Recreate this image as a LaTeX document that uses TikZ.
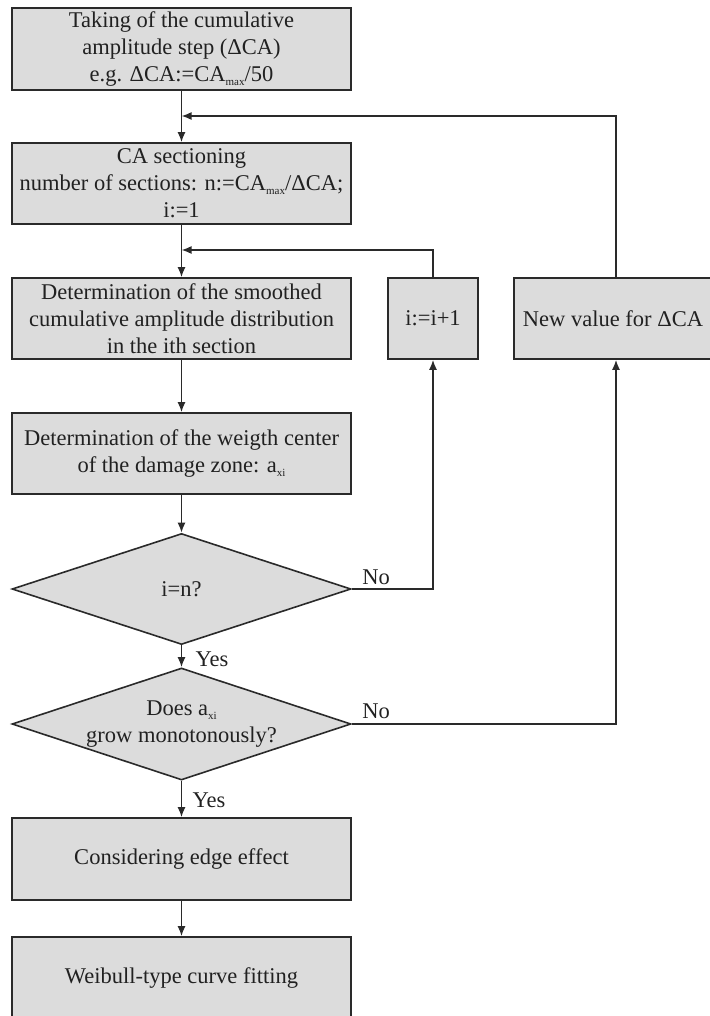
\documentclass[tikz,border=0pt]{standalone}
\usepackage{fontspec}
\setmainfont{Liberation Serif}
\usetikzlibrary{shapes.geometric,arrows.meta}
\definecolor{boxfill}{HTML}{DCDCDC}
\definecolor{linecol}{HTML}{2A2A2A}
\newcommand\smallsub[1]{\raisebox{-0.35ex}{\fontsize{11}{11}\selectfont #1}}
\begin{document}
\begin{tikzpicture}[x=1pt,y=-1pt,
  every node/.style={font=\fontsize{22.5}{27}\selectfont, text=black!87},
  procbox/.style={draw=linecol, fill=boxfill, line width=1.6pt, inner sep=0pt, align=center, minimum width=339pt, minimum height=81pt},
  decide/.style={diamond, draw=linecol, fill=boxfill, line width=1.6pt, inner sep=0pt, minimum width=339pt, minimum height=111pt},
  conn/.style={draw=linecol, line width=1.6pt},
  arr/.style={conn, -{Latex[length=10pt,width=8pt]}},
  lbl/.style={inner sep=0pt, align=center}]
\useasboundingbox (0,0) rectangle (709,1016);
\node[procbox, minimum height=82pt] (b1) at (181.5,49) {Taking of the cumulative\\amplitude step (ΔCA)\\e.g. ΔCA:=CA\smallsub{max}/50};
\node[procbox] (b2) at (181.5,183.5) {CA sectioning\\number of sections: n:=CA\smallsub{max}/ΔCA;\\i:=1};
\node[procbox] (b3) at (181.5,318.5) {Determination of the smoothed\\cumulative amplitude distribution\\in the ith section};
\node[procbox] (b4) at (181.5,453.5) {Determination of the weigth center\\of the damage zone: a\smallsub{xi}};
\node[decide] (d1) at (181.5,589) {};
\node[lbl] (t1) at (d1) {i=n?};
\node[decide, minimum height=112pt] (d2) at (181.5,724) {};
\node[lbl] (t2) at (d2) {Does a\smallsub{xi}\\grow monotonously?};
\node[procbox, minimum height=82pt] (b5) at (181.5,859) {Considering edge effect};
\node[procbox, minimum height=82pt] (b6) at (181.5,978) {Weibull-type curve fitting};
\node[procbox, minimum width=90pt] (inc) at (433,318.5) {i:=i+1};
\node[procbox, minimum width=198pt] (nv) at (613,318.5) {New value for ΔCA};
\coordinate (j1) at (181.5,116);
\coordinate (j2) at (181.5,250);
\coordinate (r1) at (616,116);
\coordinate (r2) at (433,250);
% main flow
\draw[arr] (b1) -- (b2);
\draw[arr] (b2) -- (b3);
\draw[arr] (b3) -- (b4);
\draw[arr] (b4) -- (d1);
\draw[arr] (d1) -- (d2);
\draw[arr] (d2) -- (b5);
\draw[arr] (b5) -- (b6);
% loops
\draw[arr] (d1.east) -| (inc.south);
\draw[arr] (inc.north) -- (r2) -- (j2);
\draw[arr] (d2.east) -| (nv.south -| r1);
\draw[arr] (nv.north -| r1) -- (r1) -- (j1);
% labels
\node[lbl] (no1) at (376,577) {No};
\node[lbl] (yes1) at (212,659) {Yes};
\node[lbl] (no2) at (376,711) {No};
\node[lbl] (yes2) at (209,800) {Yes};
\end{tikzpicture}
\end{document}
